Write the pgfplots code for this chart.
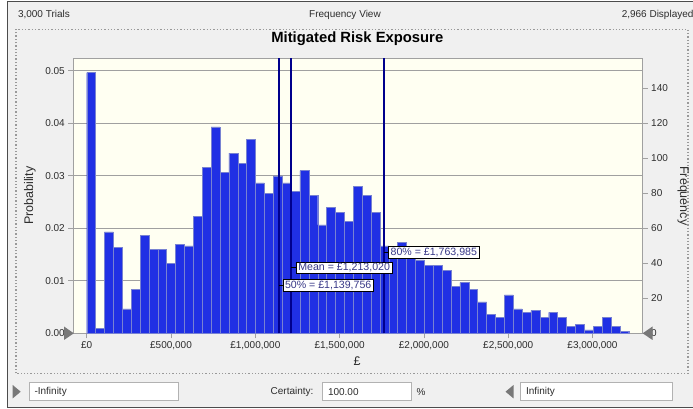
\documentclass[border=0pt]{standalone}
\usepackage{pgfplots}
\pgfplotsset{compat=1.18}
\usepackage{fontspec}
\setmainfont{Liberation Sans}
\definecolor{winbg}{RGB}{240,240,240}
\definecolor{plotbg}{RGB}{255,255,242}
\definecolor{barblue}{RGB}{32,48,228}
\definecolor{baredge}{RGB}{120,130,210}
\definecolor{navy}{RGB}{0,0,140}
\definecolor{lbltext}{RGB}{55,55,135}
\definecolor{gridgray}{RGB}{160,160,160}
\definecolor{txt}{RGB}{45,45,45}
\definecolor{trigray}{RGB}{120,120,120}
\tikzset{lbl/.style={draw=black, fill=white, line width=0.7pt, text=lbltext,
  inner xsep=2pt, inner ysep=0.8pt, font=\fontsize{10.6}{11}\selectfont, minimum height=11.6pt}}
\begin{document}
\begin{tikzpicture}[x=1pt,y=1pt]
\path[use as bounding box, fill=white] (0,0) rectangle (693,409);
\fill[winbg] (7.3,1.3) rectangle (693,407.3);
\draw[gray!60!black, line width=1pt] (693,1.3) -- (7.3,1.3) -- (7.3,407.3) -- (693,407.3);
% top strip
\node[anchor=west, text=txt, font=\fontsize{10}{12}\selectfont] at (14.5,394) {3,000 Trials};
\node[text=txt, font=\fontsize{10}{12}\selectfont] at (345,394) {Frequency View};
\node[anchor=east, text=txt, font=\fontsize{10}{12}\selectfont] at (697,394) {2,966 Displayed};
% inner panel
\draw[gray!80, dotted, line width=1.3pt] (16,35.7) rectangle (688,379.7);
\node[font=\bfseries\fontsize{14.8}{16}\selectfont] at (357.3,370.7) {Mitigated Risk Exposure};

\begin{axis}[at={(73.3pt,75.7pt)}, anchor=south west, scale only axis,
  width=569.4pt, height=275pt,
  xmin=-79500, xmax=3297700, ymin=0, ymax=0.052381,
  axis background/.style={fill=plotbg},
  axis line style={gridgray, line width=0.8pt},
  tick pos=left, tick align=outside, major tick length=5pt,
  tick style={gridgray, line width=0.6pt},
  xtick={0,500000,1000000,1500000,2000000,2500000,3000000},
  xticklabels={{£0},{£500,000},{£1,000,000},{£1,500,000},{£2,000,000},{£2,500,000},{£3,000,000}},
  ytick={0,0.01,0.02,0.03,0.04,0.05},
  yticklabels={0.00,0.01,0.02,0.03,0.04,0.05},
  ymajorgrids, major grid style={gridgray, line width=0.9pt},
  scaled ticks=false,
  /pgf/number format/assume math mode=true,
  tick label style={font=\fontsize{10}{12}\selectfont, text=txt},
  ylabel={Probability}, xlabel={£},
  ylabel style={at={([xshift=-43.3pt]axis description cs:0,0.5)}, anchor=center,
    font=\fontsize{12.5}{14}\selectfont, text=txt},
  xlabel style={at={([yshift=-27.7pt]axis description cs:0.4985,0)}, anchor=center,
    font=\fontsize{12.5}{14}\selectfont, text=txt},
]
\end{axis}

\begin{axis}[at={(73.3pt,75.7pt)}, anchor=south west, scale only axis,
  width=569.4pt, height=275pt,
  xmin=-79500, xmax=3297700, ymin=0, ymax=157.14,
  hide x axis, axis y line*=right,
  axis line style={gridgray, line width=0.8pt},
  tick align=outside, major tick length=5pt,
  tick style={gridgray, line width=0.6pt},
  ytick={0,20,40,60,80,100,120,140},
  /pgf/number format/assume math mode=true,
  tick label style={font=\fontsize{10}{12}\selectfont, text=txt},
  ylabel={Frequency},
  ylabel style={at={([xshift=40.3pt]axis description cs:1,0.5)}, anchor=center, rotate=180,
    font=\fontsize{12.5}{14}\selectfont, text=txt},
]
\addplot[ybar interval, fill=barblue, draw=baredge, line width=0.4pt] coordinates {
(0,149) (52700,3) (105400,58) (158100,49) (210800,14) (263500,25) (316200,56)
(368900,48) (421600,48) (474300,40) (527000,51) (579700,50) (632400,67)
(685100,95) (737800,118) (790500,92) (843200,103) (895900,97) (948600,111)
(1001300,86) (1054000,80) (1106700,90) (1159400,86) (1212100,81) (1264800,93)
(1317500,79) (1370200,62) (1422900,72) (1475600,69) (1528300,64) (1581000,84)
(1633700,79) (1686400,69) (1739100,50) (1791800,48) (1844500,52) (1897200,43)
(1949900,42) (2002600,39) (2055300,39) (2108000,36) (2160700,27) (2213400,29)
(2266100,25) (2318800,18) (2371500,11) (2424200,9) (2476900,22) (2529600,14)
(2582300,12) (2635000,13) (2687700,9) (2740400,12) (2793100,9) (2845800,4)
(2898500,5) (2951200,2) (3003900,4) (3056600,9) (3109300,4) (3162000,1)
(3214700,0)};
\addplot[navy, line width=2pt] coordinates {(1139756,0) (1139756,157.14)};
\addplot[navy, line width=2pt] coordinates {(1213020,0) (1213020,157.14)};
\addplot[navy, line width=2pt] coordinates {(1763985,0) (1763985,157.14)};
\draw[black, line width=0.9pt] (axis cs:1763985,46.1) -- ++(4.2pt,0pt) node[lbl, anchor=west] {80\% = £1,763,985};
\draw[black, line width=0.9pt] (axis cs:1213020,37.5) -- ++(4.8pt,0pt) node[lbl, anchor=west] {Mean = £1,213,020};
\draw[black, line width=0.9pt] (axis cs:1139756,27.5) -- ++(3.8pt,0pt) node[lbl, anchor=west] {50\% = £1,139,756};
\end{axis}

% slider triangles on axes
\fill[trigray] (64,82.5) -- (73.8,75.7) -- (64,69) -- cycle;
\fill[trigray] (652.5,82.5) -- (642.7,75.7) -- (652.5,69) -- cycle;

% bottom strip
\fill[trigray] (12.7,24) -- (20.7,17.3) -- (12.7,10.6) -- cycle;
\draw[gray!60, fill=white] (29.3,8.3) rectangle (177.7,26.3);
\node[anchor=west, text=txt, font=\fontsize{10}{12}\selectfont] at (31,17.3) {-Infinity};
\node[anchor=east, text=txt, font=\fontsize{10}{12}\selectfont] at (317,17.3) {Certainty:};
\draw[gray!60, fill=white] (322.6,8.3) rectangle (411,26.3);
\node[anchor=west, text=txt, font=\fontsize{10}{12}\selectfont] at (324.5,17.3) {100.00};
\node[text=txt, font=\fontsize{10}{12}\selectfont] at (421,17.3) {\%};
\fill[trigray] (513.5,24) -- (505.5,17.3) -- (513.5,10.6) -- cycle;
\draw[gray!60, fill=white] (520.5,8.3) rectangle (671.7,26.3);
\node[anchor=west, text=txt, font=\fontsize{10}{12}\selectfont] at (522.5,17.3) {Infinity};
\end{tikzpicture}
\end{document}
